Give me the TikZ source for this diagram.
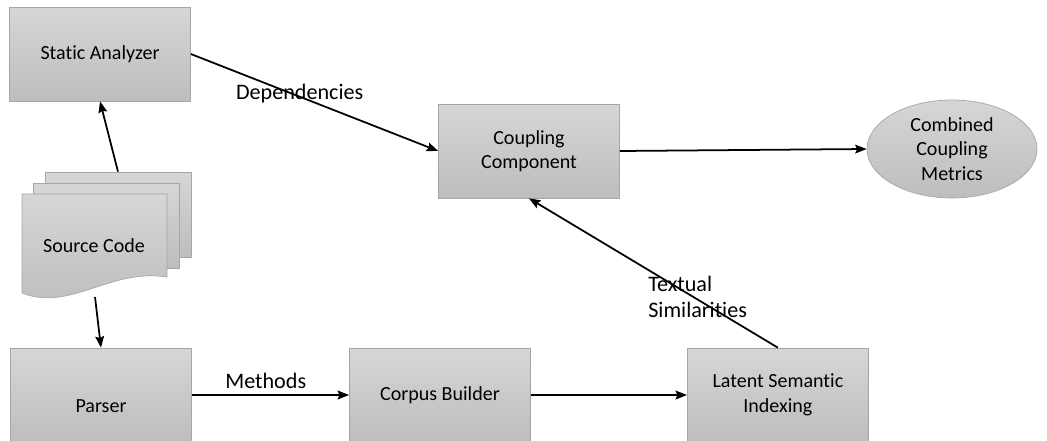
\documentclass[tikz,border=0pt]{standalone}
\usepackage{fontspec}
\setmainfont{Carlito}[Ligatures=NoCommon]
\usetikzlibrary{arrows.meta,positioning,shapes.geometric}
\definecolor{boxtop}{HTML}{D6D6D6}
\definecolor{boxbottom}{HTML}{BDBDBD}
\definecolor{boxline}{HTML}{A6A6A6}
\tikzset{
	>={Stealth[length=6.5pt,width=5pt,inset=1pt]}, % small filled heads
	every node/.style={font=\fontsize{11.4}{14}\selectfont},
	block/.style={draw=boxline, top color=boxtop, bottom color=boxbottom,
		minimum width=3.62cm, minimum height=1.88cm, align=center, inner sep=2pt},
	page/.style={draw=boxline, top color=boxtop, bottom color=boxbottom,
		minimum width=2.92cm, minimum height=1.7cm, inner sep=0pt},
	result/.style={ellipse, draw=boxline, top color=boxtop, bottom color=boxbottom,
		minimum width=3.4cm, minimum height=1.96cm, align=center, inner sep=0pt},
	flow/.style={->, line width=1pt},
	tag/.style={font=\fontsize{12.6}{15}\selectfont},
}

\begin{document}
\begin{tikzpicture}[x=0.02cm, y=-0.02cm]
	\useasboundingbox (0,0) rectangle (1047,440);
	\clip (0,0) rectangle (1047,440);

	% top row
	\node[block] (analyzer) at (100,54) {Static Analyzer};
	\node[block] (coupling) at (529,151) {Coupling\\Component};
	\node[result] (metrics) at (952,149) {Combined\\Coupling\\Metrics};

	% bottom row, boxes run off the lower edge
	\node[block] (parser) at (101,395) {};
	\node at (101,406) {Parser};
	\node[block, right=6.78cm of parser.center, anchor=center] (corpus) {Corpus Builder};
	\node[block, right=6.76cm of corpus.center, anchor=center] (lsi) {Latent Semantic\\Indexing};

	% stack of source files
	\node[page] (page3) at (118,214.5) {};
	\node[page] (page2) at (106.5,225.5) {};
	\path[draw=boxline, top color=boxtop, bottom color=boxbottom]
		(22,194) -- (167,194) -- (167,277)
		.. controls (110,268) and (70,312) .. (22,293) -- cycle;
	\node (source) at (94,246) {Source Code};
	\coordinate (sourcebottom) at (95,297);

	% connectors
	\draw[flow] (page3.north) -- (analyzer.south);
	\draw[flow] (sourcebottom) -- (parser.north);
	\draw[flow] (analyzer.east) -- node[tag, pos=0.44, yshift=2pt] {Dependencies} (coupling.west);
	\draw[flow] (coupling.east) -- (metrics.west);
	\draw[flow] (parser.east) -- node[tag, above, pos=0.47] {Methods} (corpus.west);
	\draw[flow] (corpus.east) -- (lsi.west);
	\draw[flow] (lsi.north) -- node[tag, pos=0.34, xshift=2.5pt, align=left] {Textual\\Similarities} (coupling.south);
\end{tikzpicture}
\end{document}
